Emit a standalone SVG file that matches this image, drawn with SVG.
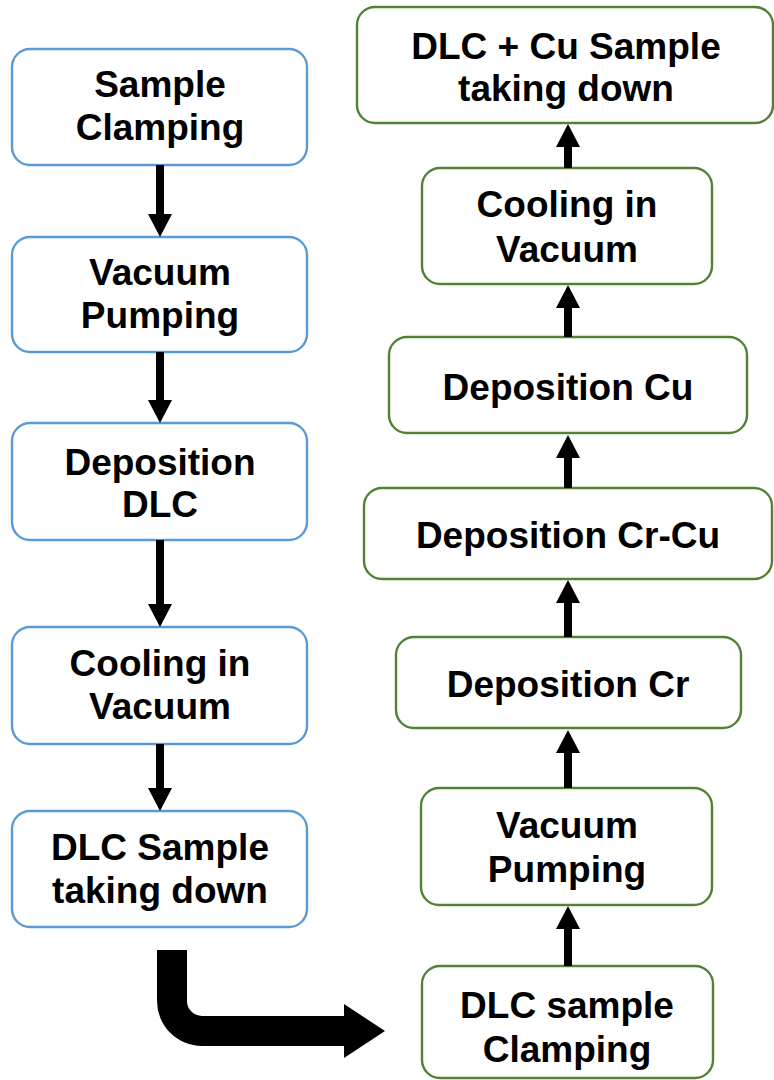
<svg xmlns="http://www.w3.org/2000/svg" width="774" height="1080" viewBox="0 0 774 1080">
  <defs>
    <style>
      .box { fill: #ffffff; stroke-width: 2.4; }
      .blue { stroke: #5b9bd5; }
      .green { stroke: #548235; }
      .label { font-family: "Liberation Sans", Arial, sans-serif; font-weight: bold; font-size: 37px; fill: #000000; text-anchor: middle; }
      .flow { stroke: #000000; stroke-width: 8; fill: none; marker-end: url(#head); }
    </style>
    <marker id="head" markerUnits="userSpaceOnUse" viewBox="0 -12 23 24" markerWidth="23" markerHeight="24" refX="0" refY="0" orient="auto">
      <path d="M0,-12 L23,0 L0,12 Z" fill="#000000"/>
    </marker>
  </defs>
  <rect width="774" height="1080" fill="#ffffff"/>

  <!-- left column: DLC process -->
  <g id="sample-clamping">
    <rect class="box blue" x="12" y="49" width="295" height="116" rx="18"/>
    <text class="label" x="160" y="97">Sample</text>
    <text class="label" x="160" y="140">Clamping</text>
  </g>
  <g id="vacuum-pumping-1">
    <rect class="box blue" x="12" y="237" width="295" height="115" rx="18"/>
    <text class="label" x="160" y="285">Vacuum</text>
    <text class="label" x="160" y="328">Pumping</text>
  </g>
  <g id="deposition-dlc">
    <rect class="box blue" x="12" y="423" width="295" height="117" rx="18"/>
    <text class="label" x="160" y="475">Deposition</text>
    <text class="label" x="160" y="517">DLC</text>
  </g>
  <g id="cooling-1">
    <rect class="box blue" x="12" y="627" width="295" height="117" rx="18"/>
    <text class="label" x="160" y="676">Cooling in</text>
    <text class="label" x="160" y="719">Vacuum</text>
  </g>
  <g id="dlc-taking-down">
    <rect class="box blue" x="12" y="811" width="295" height="116" rx="18"/>
    <text class="label" x="160" y="860">DLC Sample</text>
    <text class="label" x="160" y="903">taking down</text>
  </g>

  <!-- right column: DLC + Cu process -->
  <g id="dlc-cu-taking-down">
    <rect class="box green" x="357" y="7" width="416" height="116" rx="18"/>
    <text class="label" x="566" y="59">DLC + Cu Sample</text>
    <text class="label" x="566" y="101">taking down</text>
  </g>
  <g id="cooling-2">
    <rect class="box green" x="422" y="168" width="290" height="116" rx="18"/>
    <text class="label" x="567" y="217">Cooling in</text>
    <text class="label" x="567" y="262">Vacuum</text>
  </g>
  <g id="deposition-cu">
    <rect class="box green" x="389" y="337" width="358" height="96" rx="18"/>
    <text class="label" x="568" y="400">Deposition Cu</text>
  </g>
  <g id="deposition-cr-cu">
    <rect class="box green" x="364" y="488" width="408" height="91" rx="18"/>
    <text class="label" x="568" y="548">Deposition Cr-Cu</text>
  </g>
  <g id="deposition-cr">
    <rect class="box green" x="396" y="637" width="345" height="91" rx="18"/>
    <text class="label" x="568" y="697">Deposition Cr</text>
  </g>
  <g id="vacuum-pumping-2">
    <rect class="box green" x="421" y="788" width="291" height="117" rx="18"/>
    <text class="label" x="567" y="838">Vacuum</text>
    <text class="label" x="567" y="882">Pumping</text>
  </g>
  <g id="dlc-sample-clamping">
    <rect class="box green" x="422" y="966" width="291" height="112" rx="18"/>
    <text class="label" x="567" y="1018">DLC sample</text>
    <text class="label" x="567" y="1062">Clamping</text>
  </g>

  <!-- connectors -->
  <g id="connectors">
    <line class="flow" x1="160" y1="165" x2="160" y2="214"/>
    <line class="flow" x1="160" y1="352" x2="160" y2="400"/>
    <line class="flow" x1="160" y1="540" x2="160" y2="604"/>
    <line class="flow" x1="160" y1="744" x2="160" y2="788"/>

    <line class="flow" x1="568" y1="966" x2="568" y2="929"/>
    <line class="flow" x1="568" y1="788" x2="568" y2="753"/>
    <line class="flow" x1="568" y1="637" x2="568" y2="603"/>
    <line class="flow" x1="568" y1="488" x2="568" y2="458"/>
    <line class="flow" x1="568" y1="337" x2="568" y2="308"/>
    <line class="flow" x1="568" y1="168" x2="568" y2="147"/>

    <!-- bent block arrow linking the two columns -->
    <path d="M157,950 L157,1001 A45,45 0 0 0 202,1046 L344,1046 L344,1058 L385,1031 L344,1004 L344,1016 L202,1016 A15,15 0 0 1 187,1001 L187,950 Z" fill="#000000"/>
  </g>
</svg>
